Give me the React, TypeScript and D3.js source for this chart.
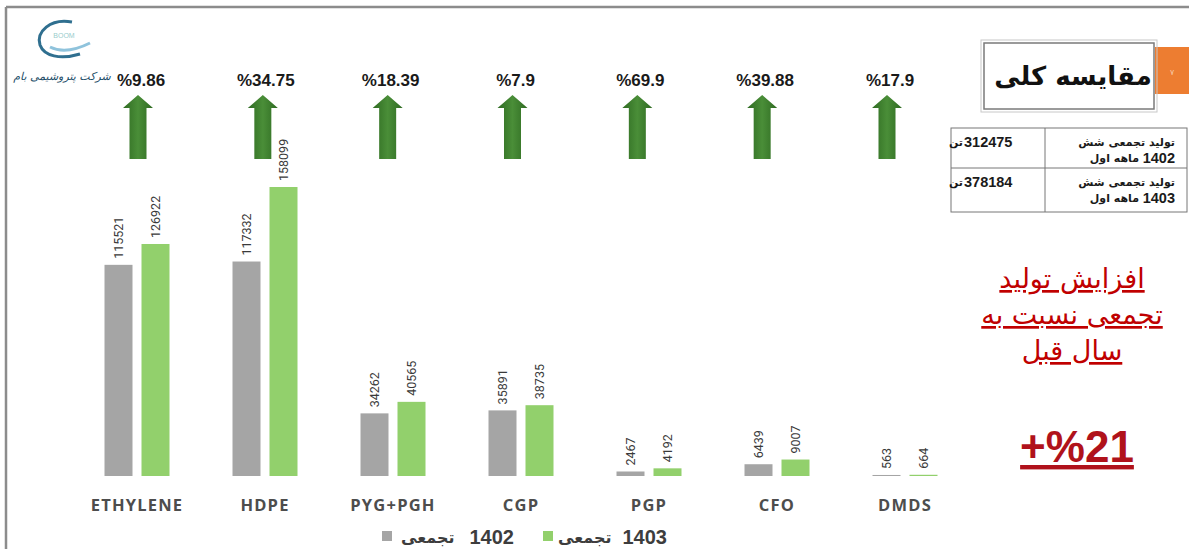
import React from 'react';
import * as d3 from 'd3';

const categories = ['ETHYLENE', 'HDPE', 'PYG+PGH', 'CGP', 'PGP', 'CFO', 'DMDS'];
const values1402 = [115521, 117332, 34262, 35891, 2467, 6439, 563];
const values1403 = [126922, 158099, 40565, 38735, 4192, 9007, 664];
const growthLabels = ['%9.86', '%34.75', '%18.39', '%7.9', '%69.9', '%39.88', '%17.9'];

const seriesNames = ['1402', '1403'];
const legendWord = 'تجمعی';
const titleText = 'مقایسه کلی';
const tableRows = [
  { total: '312475', unit: 'تن', line1: 'تولید تجمعی شش', line2: 'ماهه اول', year: '1402' },
  { total: '378184', unit: 'تن', line1: 'تولید تجمعی شش', line2: 'ماهه اول', year: '1403' },
];
const noteLines = ['افزایش تولید', 'تجمعی نسبت به', 'سال قبل'];
const totalGrowth = '+%21';

const W = 1189;
const H = 549;
const GRAY = '#a5a5a5';
const GREEN = '#92d06c';

export default function App() {
  const baseY = 476;
  const x = d3.scaleBand().domain(categories).range([73, 969]);
  const y = d3
    .scaleLinear()
    .domain([0, 158099])
    .range([baseY, 187]);
  const arrowX = d3.scalePoint().domain(categories).range([138, 887]);

  const barW = 28;
  const gap = 9;

  const arrow = (cx: number) => {
    const top = 95;
    const neck = 108;
    const bottom = 159;
    const hw = 15;
    const sw = 8.5;
    return d3.line()([
      [cx, top],
      [cx + hw, neck],
      [cx + sw, neck],
      [cx + sw, bottom],
      [cx - sw, bottom],
      [cx - sw, neck],
      [cx - hw, neck],
    ]) + 'Z';
  };

  const valueLabel = (v: number, cx: number, key: string) => (
    <text
      key={key}
      transform={`translate(${cx + 4.5},${y(v) - 6}) rotate(-90)`}
      fontFamily="Roboto, sans-serif"
      fontSize={12.5}
      fill="#3a3a3a"
      textAnchor="start"
    >
      {v}
    </text>
  );

  // row layout of the summary table
  const rowTops = [128, 168];
  const rowBottom = 212;

  return (
    <svg
      width={W}
      height={H}
      style={{ position: 'fixed', left: 0, top: 0, background: '#fff' }}
      fontFamily="Arial, 'Liberation Sans', sans-serif"
    >
      <defs>
        <linearGradient id="arrowGrad" x1="0" x2="1" y1="0" y2="0">
          <stop offset="0" stopColor="#2f6b22" />
          <stop offset="0.5" stopColor="#4a8e38" />
          <stop offset="1" stopColor="#2f6b22" />
        </linearGradient>
      </defs>
      <rect x={0} y={0} width={W} height={H} fill="#fff" />
      {/* frame */}
      <line x1={6} x2={W} y1={7} y2={7} stroke="#8c8c8c" strokeWidth={2.5} />
      <line x1={6} x2={6} y1={7} y2={H} stroke="#8c8c8c" strokeWidth={2.5} />

      {/* logo */}
      <g>
        <path
          d="M72,22 C50,18 36,32 40,45 C44,56 60,60 80,54"
          fill="none"
          stroke="#2f6f8f"
          strokeWidth={3}
        />
        <path d="M50,47 C60,52 72,52 90,43" fill="none" stroke="#8fc3dc" strokeWidth={3} />
        <text x={64} y={38} fontSize={7} fill="#9cc" textAnchor="middle">
          BOOM
        </text>
        <text
          x={62}
          y={80}
          fontSize={11}
          fontStyle="italic"
          fill="#1f4f6a"
          textAnchor="middle"
          fontFamily="'DejaVu Sans', sans-serif"
        >
          شرکت پتروشیمی بام
        </text>
      </g>

      {/* growth labels and arrows */}
      {categories.map((c, i) => (
        <g key={`arr-${c}`}>
          <text
            x={arrowX(c)! + 3}
            y={86}
            fontSize={17}
            fontWeight="bold"
            fill="#1a1a1a"
            textAnchor="middle"
          >
            {growthLabels[i]}
          </text>
          <path d={arrow(arrowX(c)!)} fill="url(#arrowGrad)" />
        </g>
      ))}

      {/* bars */}
      {categories.map((c, i) => {
        const cx = x(c)! + x.bandwidth() / 2;
        const gx = cx - gap / 2 - barW;
        const nx = cx + gap / 2;
        return (
          <g key={`bar-${c}`}>
            <rect
              x={gx}
              y={y(values1402[i])}
              width={barW}
              height={Math.max(1, baseY - y(values1402[i]))}
              fill={GRAY}
            />
            <rect
              x={nx}
              y={y(values1403[i])}
              width={barW}
              height={Math.max(1, baseY - y(values1403[i]))}
              fill={GREEN}
            />
            {valueLabel(values1402[i], gx + barW / 2, `v1-${c}`)}
            {valueLabel(values1403[i], nx + barW / 2, `v2-${c}`)}
            <text
              x={cx}
              y={511}
              fontFamily="'Open Sans', sans-serif"
              fontWeight="bold"
              fontSize={16.5}
              letterSpacing={1.2}
              fill="#4d4d4d"
              textAnchor="middle"
            >
              {c}
            </text>
          </g>
        );
      })}

      {/* legend */}
      <g fontWeight="bold" fontSize={20} fill="#3d3d3d">
        <rect x={382} y={531} width={10} height={10} fill={GRAY} />
        <text x={401} y={543} fontFamily="'DejaVu Sans', sans-serif" fontSize={16}>
          {legendWord}
        </text>
        <text x={514} y={544} textAnchor="end">
          {seriesNames[0]}
        </text>
        <rect x={543} y={531} width={10} height={10} fill={GREEN} />
        <text x={558} y={543} fontFamily="'DejaVu Sans', sans-serif" fontSize={16}>
          {legendWord}
        </text>
        <text x={667} y={544} textAnchor="end">
          {seriesNames[1]}
        </text>
      </g>

      {/* title box */}
      <rect x={1155} y={47} width={34} height={47} fill="#ed7d31" />
      <text x={1172} y={75} fontSize={8} fill="#f6c9a8" textAnchor="middle">
        ۷
      </text>
      <rect x={984} y={43} width={170} height={66} fill="#fff" stroke="#7a7a7a" strokeWidth={1.5} />
      <rect x={981} y={40} width={176} height={72} fill="none" stroke="#c8c8c8" strokeWidth={1} />
      <text
        x={1073}
        y={85}
        fontSize={26}
        fontWeight="bold"
        fill="#111"
        textAnchor="middle"
        fontFamily="'DejaVu Sans', sans-serif"
      >
        {titleText}
      </text>

      {/* table */}
      <g stroke="#777" strokeWidth={1} fill="none">
        <rect x={951} y={rowTops[0]} width={236} height={rowBottom - rowTops[0]} />
        <line x1={951} x2={1187} y1={rowTops[1]} y2={rowTops[1]} />
        <line x1={1045} x2={1045} y1={rowTops[0]} y2={rowBottom} />
      </g>
      {tableRows.map((r, i) => {
        const top = rowTops[i];
        return (
          <g key={`row-${i}`} fill="#1a1a1a" fontWeight="bold">
            <text x={963} y={top + 18} fontSize={11} fontFamily="'DejaVu Sans', sans-serif" textAnchor="end">
              {r.unit}
            </text>
            <text x={964} y={top + 19} fontSize={14.5}>
              {r.total}
            </text>
            <text
              x={1175}
              y={top + 18}
              fontSize={11}
              textAnchor="end"
              fontFamily="'DejaVu Sans', sans-serif"
            >
              {r.line1}
            </text>
            <text
              x={1139}
              y={top + 34}
              fontSize={11}
              textAnchor="end"
              fontFamily="'DejaVu Sans', sans-serif"
            >
              {r.line2}
            </text>
            <text x={1175} y={top + 35} fontSize={14.5} textAnchor="end">
              {r.year}
            </text>
          </g>
        );
      })}

      {/* red note */}
      <g fill="#c00000" fontFamily="'DejaVu Sans', sans-serif" textAnchor="middle">
        {noteLines.map((t, i) => (
          <text key={`n-${i}`} x={1072} y={288 + i * 36} fontSize={27} textDecoration="underline">
            {t}
          </text>
        ))}
        <text
          x={1077}
          y={462}
          fontSize={44}
          fontWeight="bold"
          fontFamily="Arial, 'Liberation Sans', sans-serif"
          textDecoration="underline"
          fill="#b0121b"
        >
          {totalGrowth}
        </text>
      </g>
    </svg>
  );
}
